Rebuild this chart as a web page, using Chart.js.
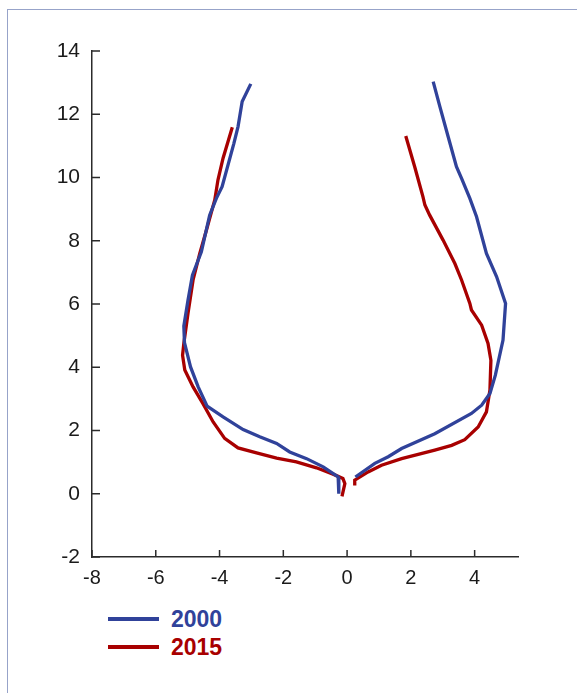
<!DOCTYPE html>
<html>
<head>
<meta charset="utf-8">
<script src="https://cdn.jsdelivr.net/npm/chart.js@4.4.1/dist/chart.umd.min.js"></script>
<style>
  html, body { margin: 0; padding: 0; background: #fff; width: 577px; height: 693px; overflow: hidden; }
  #frame { position: absolute; left: 7px; top: 9px; width: 640px; height: 760px;
           border-left: 1.5px solid #97a3c9; border-top: 1.5px solid #97a3c9; }
  #wrap { position: absolute; left: 0; top: 0; width: 577px; height: 600px; }
  #legend { position: absolute; left: 108px; top: 605px; font-family: 'Liberation Sans', Arial, sans-serif;
            font-weight: bold; font-size: 23px; }
  .item { display: flex; align-items: center; height: 28px; }
  .swatch { width: 51px; height: 4px; margin-right: 12px; }
</style>
</head>
<body>
<div id="frame"></div>
<div id="wrap"><canvas id="chart"></canvas></div>
<div id="legend"></div>
<script>
// series labels and colours
const years = ['2000', '2015'];
const yearColors = ['#30429a', '#a80000'];

// 2000, left branch (top -> origin)
const left2000X = [-3.02, -3.29, -3.42, -3.55, -3.92, -4.10, -4.31, -4.57, -4.85, -4.99, -5.12, -5.10, -4.91, -4.67, -4.39, -3.89, -3.26, -2.74, -2.21, -1.80, -1.27, -0.75, -0.28, -0.26];
const left2000Y = [12.96, 12.40, 11.61, 11.08, 9.71, 9.34, 8.81, 7.65, 6.91, 6.12, 5.30, 4.78, 4.01, 3.38, 2.77, 2.43, 2.03, 1.80, 1.59, 1.32, 1.11, 0.85, 0.53, 0.00];
// 2000, right branch (origin -> top)
const right2000X = [0.26, 0.87, 1.29, 1.71, 2.75, 3.90, 4.22, 4.48, 4.65, 4.89, 4.97, 4.69, 4.37, 4.06, 3.85, 3.59, 3.43, 3.17, 2.91, 2.70];
const right2000Y = [0.53, 0.96, 1.17, 1.43, 1.90, 2.54, 2.80, 3.17, 3.75, 4.86, 6.02, 6.86, 7.60, 8.76, 9.34, 9.97, 10.34, 11.29, 12.24, 13.03];

// 2015, left branch
const left2015X = [-3.60, -3.89, -4.05, -4.15, -4.41, -4.62, -4.83, -4.99, -5.12, -5.16, -5.09, -4.83, -4.52, -4.20, -3.84, -3.42, -2.84, -2.21, -1.59, -0.96, -0.44, -0.13, -0.07, -0.16];
const left2015Y = [11.59, 10.61, 9.92, 9.29, 8.34, 7.60, 6.76, 5.70, 4.75, 4.38, 3.91, 3.38, 2.85, 2.27, 1.75, 1.45, 1.29, 1.13, 1.01, 0.82, 0.62, 0.48, 0.32, -0.08];
// 2015, right branch
const right2015X = [0.24, 0.24, 0.66, 1.08, 1.71, 2.75, 3.28, 3.69, 4.11, 4.37, 4.48, 4.51, 4.42, 4.22, 3.90, 3.85, 3.59, 3.38, 3.01, 2.59, 2.44, 2.38, 2.12, 1.84];
const right2015Y = [0.26, 0.43, 0.69, 0.90, 1.11, 1.38, 1.53, 1.71, 2.11, 2.59, 3.28, 4.22, 4.75, 5.33, 5.81, 6.02, 6.76, 7.28, 8.02, 8.81, 9.13, 9.39, 10.34, 11.31];

// tick labels
const xTicks = [-8, -6, -4, -2, 0, 2, 4];
const yTicks = [-2, 0, 2, 4, 6, 8, 10, 12, 14];

const AXIS_COLOR = '#2b2b2b';
Chart.defaults.font.family = "'Liberation Sans', Arial, sans-serif";
Chart.defaults.color = '#1a1a1a';

function pts(xs, ys) {
    return xs.map((x, i) => ({ x: x, y: ys[i] }));
}

function branch(xs, ys, color) {
    return {
        data: pts(xs, ys),
        showLine: true,
        borderColor: color,
        backgroundColor: color,
        borderWidth: 3.3,
        pointRadius: 0,
        tension: 0,
        borderJoinStyle: 'miter'
    };
}

// small tick marks pointing into the plot
const innerTicks = {
    id: 'innerTicks',
    afterDraw(chart) {
        const ctx = chart.ctx;
        const xs = chart.scales.x, ys = chart.scales.y;
        const area = chart.chartArea;
        ctx.save();
        ctx.strokeStyle = AXIS_COLOR;
        ctx.lineWidth = 1.5;
        ctx.beginPath();
        xTicks.forEach(v => {
            const px = xs.getPixelForValue(v);
            ctx.moveTo(px, area.bottom);
            ctx.lineTo(px, area.bottom - 7);
        });
        yTicks.forEach(v => {
            const py = ys.getPixelForValue(v);
            ctx.moveTo(area.left, py);
            ctx.lineTo(area.left + 8, py);
        });
        ctx.stroke();
        ctx.restore();
    }
};

new Chart(document.getElementById('chart').getContext('2d'), {
    type: 'scatter',
    data: {
        datasets: [
            branch(left2000X, left2000Y, yearColors[0]),
            branch(right2000X, right2000Y, yearColors[0]),
            branch(left2015X, left2015Y, yearColors[1]),
            branch(right2015X, right2015Y, yearColors[1])
        ]
    },
    options: {
        responsive: true,
        maintainAspectRatio: false,
        animation: false,
        layout: { padding: { top: 51, right: 59, left: 0, bottom: 0 } },
        plugins: { legend: { display: false }, tooltip: { enabled: false } },
        scales: {
            x: {
                type: 'linear',
                min: -8,
                max: 5.36,
                afterBuildTicks: s => { s.ticks = xTicks.map(v => ({ value: v })); },
                afterFit: s => { s.height = 43; },
                grid: { display: false, drawTicks: false },
                border: { display: true, color: AXIS_COLOR, width: 1.5 },
                ticks: { font: { size: 20 }, color: '#1a1a1a', padding: 9, maxRotation: 0 }
            },
            y: {
                type: 'linear',
                min: -2,
                max: 14,
                afterBuildTicks: s => { s.ticks = yTicks.map(v => ({ value: v })); },
                afterFit: s => { s.width = 92; },
                grid: { display: false, drawTicks: false },
                border: { display: true, color: AXIS_COLOR, width: 1.5 },
                ticks: { font: { size: 21 }, color: '#1a1a1a', padding: 12 }
            }
        }
    },
    plugins: [innerTicks]
});

// legend below the chart
const legend = document.getElementById('legend');
years.forEach((y, i) => {
    const row = document.createElement('div');
    row.className = 'item';
    row.innerHTML = '<span class="swatch" style="background:' + yearColors[i] + '"></span>' +
        '<span style="color:' + yearColors[i] + '">' + y + '</span>';
    legend.appendChild(row);
});
</script>
</body>
</html>
